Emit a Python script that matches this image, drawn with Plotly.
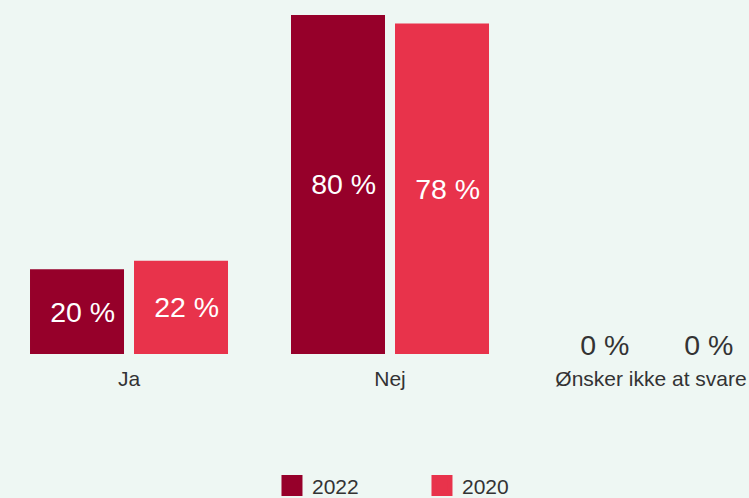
import plotly.graph_objects as go

categories = ["Ja", "Nej", "Ønsker ikke at svare"]
values_2022 = [20, 80, 0]
values_2020 = [22, 78, 0]
series_names = ["2022", "2020"]
colors = ["#96002A", "#E8334B"]

FONT = "Liberation Sans, Arial, Helvetica, sans-serif"
BG = "#EEF7F3"
FIG_H = 540  # taller than the window; the page clips it at 498 like the reference
LEAD = "\u2009\u2009"  # labels in the reference sit slightly right of the bar centre

fig = go.Figure()
for name, vals, col in zip(series_names, [values_2022, values_2020], colors):
    fig.add_trace(go.Bar(
        x=categories, y=vals, name=name, showlegend=False, offsetgroup=name,
        marker=dict(color=col, line=dict(width=0)),
        texttemplate=LEAD + "%{y:.0f} %",
        textposition=["inside" if v > 0 else "none" for v in vals],
        insidetextanchor="middle",
        insidetextfont=dict(color="white", size=28.5, family=FONT),
        cliponaxis=False,
        hoverinfo="skip",
    ))
    # labels of zero-height bars, sitting on the baseline
    fig.add_trace(go.Scatter(
        x=categories, y=vals, mode="text", showlegend=False, offsetgroup=name,
        text=[f"<span style='font-size:28.5px'>{LEAD}{v} %</span>" if v == 0 else "" for v in vals],
        textposition="middle center",
        textfont=dict(size=2, color="#333333", family=FONT),
        cliponaxis=False, hoverinfo="skip",
    ))
    # legend entry
    fig.add_trace(go.Scatter(
        x=[None], y=[None], mode="markers", name=name, offsetgroup=name,
        marker=dict(symbol="square", size=16, color=col, line=dict(color=col, width=5)),
        showlegend=True,
    ))

fig.update_layout(
    width=749, height=FIG_H,
    paper_bgcolor=BG, plot_bgcolor=BG,
    margin=dict(l=0, r=0, t=0, b=FIG_H - 354.5, autoexpand=False),
    barmode="group", bargap=0.203, bargroupgap=0.0962,
    scattermode="group", scattergap=0.203,
    font=dict(family=FONT, color="#333333", size=21),
    xaxis=dict(range=[-0.4943, 2.3755], showgrid=False, zeroline=False, showline=False,
               ticks="", ticklabelstandoff=10,
               tickfont=dict(size=21, color="#333333", family=FONT)),
    yaxis=dict(range=[0, 83.53], visible=False, showgrid=False, zeroline=False),
    legend=dict(orientation="h", x=0.5634, xanchor="center", y=-0.3144, yanchor="top",
                font=dict(size=21, color="#333333", family=FONT),
                entrywidth=105, bgcolor="rgba(0,0,0,0)"),
)

post = (
    "document.documentElement.style.margin='0';"
    "document.documentElement.style.height='498px';"
    "document.documentElement.style.overflow='hidden';"
    "document.body.style.margin='0';"
    "document.body.style.height='498px';"
    "document.body.style.overflow='hidden';"
)
fig.write_html("out.html", config={"displayModeBar": False}, post_script=post)
